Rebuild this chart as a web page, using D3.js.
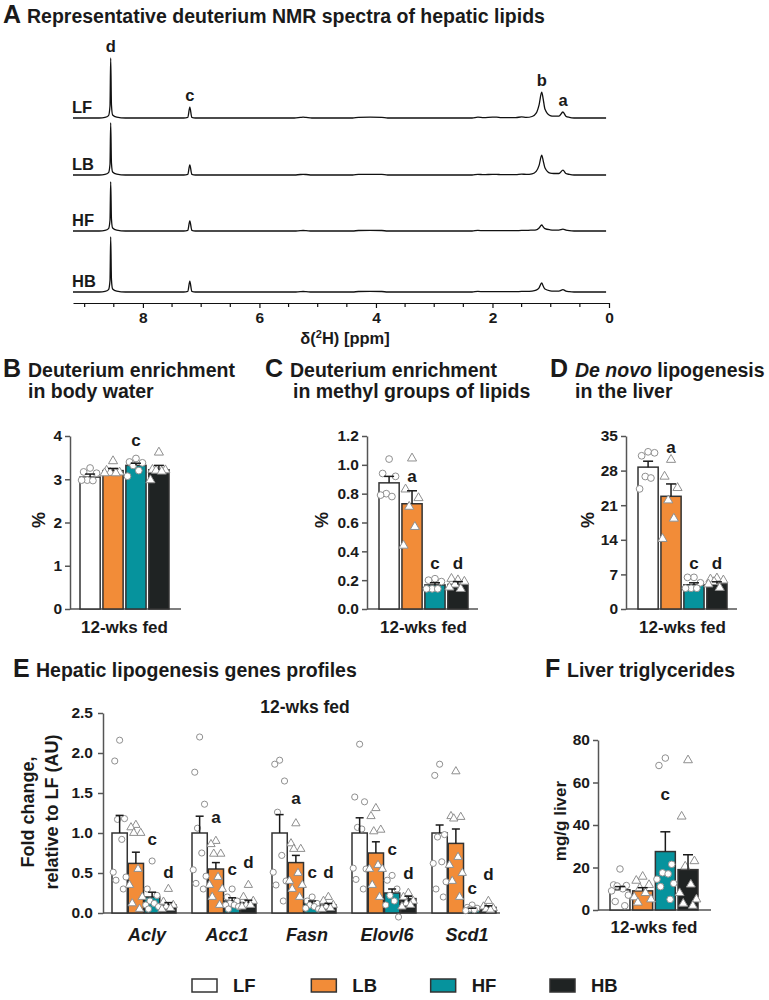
<!DOCTYPE html>
<html>
<head>
<meta charset="utf-8">
<script src="https://cdn.jsdelivr.net/npm/d3@7"></script>
<style>
  body { margin: 0; background: #fff; }
  svg text { font-family: "Liberation Sans", Arial, sans-serif; font-weight: bold; fill: #1a1a1a; }
</style>
</head>
<body>
<svg id="fig" width="769" height="1000"></svg>
<script>
// diet groups
const groups = ["LF", "LB", "HF", "HB"];
const groupColors = ["#ffffff", "#f28c38", "#06939d", "#1f2323"];
const groupShapes = ["circle", "triangle", "circle", "triangle"];

// A: NMR spectra (chemical shift grid and intensity per group, LF d-peak = 100)
const ppm = [9.2, 8.75, 8.65, 8.59, 8.565, 8.553, 8.54, 8.52, 8.45, 8.3,
  7.3, 7.23, 7.195, 7.16, 7.1, 5.4, 5.3, 5.25, 5.2, 5.1,
  4.4, 4.3, 4.1, 3.9, 3.8, 2.35, 2.25, 2.15, 2.0, 1.93, 1.85,
  1.6, 1.5, 1.42, 1.32, 1.25, 1.2, 1.155, 1.13, 1.1, 1.01, 0.95, 0.86, 0.79, 0.74, 0.68, 0.6, 0.05];
const specLF = [0, 0, 1, 4, 20, 100, 22, 5, 1.5, 0, 0, 1, 18, 1, 0, 0, 1, 1.5, 1, 0,
  0, 1.2, 1.5, 1.2, 0, 0, 1.5, 0.5, 1.5, 1.5, 0.5,
  0.5, 2, 1, 2.5, 8, 22, 43, 32, 15, 4, 3, 3, 10, 3, 1, 0, 0];
const specLB = [0, 0, 1, 4, 18, 87, 20, 5, 1.5, 0, 0, 1, 17, 1, 0, 0, 0.8, 1, 0.8, 0,
  0, 1, 1.2, 1, 0, 0, 1.2, 0.5, 1.2, 1.2, 0.5,
  0.5, 1.5, 1, 2, 6, 16, 33, 24, 12, 3, 2.5, 2.5, 8, 2.5, 1, 0, 0];
const specHF = [0, 0, 1, 4, 18, 82, 20, 5, 1.5, 0, 0, 1, 17, 1, 0, 0, 0.6, 0.8, 0.6, 0,
  0, 0.8, 1, 0.8, 0, 0, 1, 0.5, 0.5, 0.5, 0.5,
  0.5, 1, 1, 1.5, 2, 5, 10, 7, 4, 2, 1.5, 1.5, 3, 1.5, 0.5, 0, 0];
const specHB = [0, 0, 1, 4, 19, 92, 21, 5, 1.5, 0, 0, 1, 18, 1, 0, 0, 0.6, 0.8, 0.6, 0,
  0, 0.8, 1, 0.8, 0, 0, 1, 0.5, 0.5, 0.5, 0.5,
  0.5, 1, 1, 1.5, 3, 7, 15, 10, 5, 2, 1.5, 1.5, 4, 1.5, 0.5, 0, 0];
const spectra = [specLF, specLB, specHF, specHB];
const peakNames = ["d", "c", "b", "a"];
const peakPpm = [8.553, 7.195, 1.155, 0.79];
const ppmTicks = [8, 6, 4, 2, 0];
const ppmMinor = [9, 8.5, 7.5, 7, 6.5, 5.5, 5, 4.5, 3.5, 3, 2.5, 1.5, 1, 0.5];

// B: body water enrichment (%)
const bMean = [3.05, 3.2, 3.32, 3.22];
const bErr = [0.07, 0.05, 0.05, 0.1];
const bPts = [[3.26, 3.17, 3.14, 2.98, 2.97, 2.98], [3.42, 3.2, 3.16, 3.15, 3.14, 3.14],
  [3.48, 3.4, 3.38, 3.32, 3.2, 3.07], [3.62, 3.22, 3.21, 3.2, 3.18, 2.98]];
const bLetters = ["", "", "c", ""];
const bLetterY = [0, 0, 3.76, 0];
const bTicks = [0, 1, 2, 3, 4];

// C: methyl groups enrichment (%)
const cMean = [0.875, 0.73, 0.167, 0.17];
const cErr = [0.045, 0.09, 0.015, 0.02];
const cPts = [[1.04, 0.94, 0.92, 0.8, 0.78, 0.79], [1.045, 0.83, 0.77, 0.71, 0.57, 0.44],
  [0.21, 0.2, 0.19, 0.14, 0.14, 0.14], [0.2, 0.21, 0.19, 0.17, 0.14, 0.15]];
const cLetters = ["", "a", "c", "d"];
const cLetterY = [0, 0.88, 0.28, 0.28];
const cTicks = [0, 0.2, 0.4, 0.6, 0.8, 1.0, 1.2];

// D: de novo lipogenesis (%)
const dMean = [28.7, 22.8, 4.9, 5.1];
const dErr = [1.2, 2.5, 0.4, 0.4];
const dPts = [[31.8, 31, 31.6, 26.8, 26.5, 24.3], [30.2, 26.8, 24.5, 22, 18.3, 14.2],
  [6.4, 6.4, 5.3, 4.2, 4.2, 4.2], [6.2, 6, 5.8, 5.5, 4.3, 5]];
const dLetters = ["", "a", "c", "d"];
const dLetterY = [0, 31.6, 8.1, 8.1];
const dTicks = [0, 7, 14, 21, 28, 35];

// E: lipogenesis genes, fold change
const genes = ["Acly", "Acc1", "Fasn", "Elovl6", "Scd1"];
const eMean = [[1.0, 0.62, 0.2, 0.1], [1.0, 0.55, 0.15, 0.13], [1.0, 0.63, 0.12, 0.1],
  [1.0, 0.75, 0.25, 0.18], [1.0, 0.87, 0.05, 0.07]];
const eErr = [[0.22, 0.14, 0.06, 0.03], [0.21, 0.08, 0.04, 0.03], [0.23, 0.09, 0.03, 0.02],
  [0.19, 0.14, 0.05, 0.03], [0.1, 0.18, 0.01, 0.02]];
const ePts = [
  [[2.16, 1.9, 1.18, 1.17, 0.92, 0.51, 0.45, 0.41, 0.3], [1.1, 1.07, 1.0, 1.0, 0.55, 0.35, 0.2, 0.12, 0.05],
   [0.65, 0.3, 0.22, 0.15, 0.12, 0.1, 0.08, 0.05], [0.3, 0.14, 0.1, 0.08, 0.06, 0.05]],
  [[2.2, 1.76, 1.36, 1.06, 0.75, 0.54, 0.46, 0.37, 0.3], [0.9, 0.86, 0.74, 0.74, 0.45, 0.35, 0.3, 0.2, 0.1],
   [0.3, 0.2, 0.15, 0.12, 0.1, 0.1, 0.08, 0.05], [0.35, 0.2, 0.15, 0.1, 0.1, 0.08]],
  [[1.91, 1.86, 1.65, 1.26, 0.72, 0.51, 0.4, 0.35, 0.15], [1.12, 0.87, 0.8, 0.8, 0.5, 0.4, 0.35, 0.3, 0.2],
   [0.2, 0.15, 0.12, 0.1, 0.08, 0.06, 0.05], [0.2, 0.15, 0.1, 0.08, 0.06, 0.05]],
  [[2.11, 1.45, 1.39, 1.07, 1.05, 0.56, 0.55, 0.42, 0.3], [1.31, 1.21, 1.04, 1.02, 0.6, 0.55, 0.55, 0.35, 0.2],
   [0.47, 0.41, 0.3, 0.22, 0.15, 0.1, -0.05], [0.25, 0.2, 0.15, 0.12, 0.1, 0.08]],
  [[1.86, 1.72, 0.98, 0.95, 0.64, 0.62, 0.39, 0.3, 0.2], [1.77, 1.21, 1.2, 1.18, 0.7, 0.6, 0.5, 0.4, 0.2],
   [0.1, 0.07, 0.06, 0.05, 0.04, 0.03], [0.15, 0.08, 0.06, 0.05, 0.04]]
];
const eLetters = [["", "", "c", "d"], ["", "a", "c", "d"], ["", "a", "c", "d"], ["", "", "c", "d"], ["", "", "c", "d"]];
const eLetterY = [[0, 0, 0.85, 0.44], [0, 1.12, 0.47, 0.56], [0, 1.36, 0.44, 0.44], [0, 0, 0.72, 0.42], [0, 0, 0.24, 0.41]];
const eTicks = [0, 0.5, 1.0, 1.5, 2.0, 2.5];

// F: liver triglycerides (mg/g liver)
const fMean = [9.5, 9, 27.5, 19];
const fErr = [1.5, 1.5, 9.3, 7];
const fPts = [[19.3, 11.8, 11.5, 11.3, 10, 9, 7, 4, 2], [15.7, 13.8, 11.8, 10.3, 8, 6, 5, 3.5],
  [71.5, 68, 21.5, 17.5, 17, 14.5, 12.5, 11, 5], [70.5, 44, 23, 20.5, 12, 8, 5, 3, 2]];
const fLetters = ["", "", "c", ""];
const fLetterY = [0, 0, 51.8, 0];
const fTicks = [0, 20, 40, 60, 80];

const svg = d3.select("#fig");
const symbols = { circle: d3.symbolCircle, triangle: d3.symbolTriangle };
const jit = [0, -0.32, 0.32, -0.14, 0.14, -0.42, 0.42, -0.24, 0.24, 0.05];

function text(g, x, y, s, size, anchor, italic) {
  return g.append("text").attr("x", x).attr("y", y).attr("font-size", size)
    .attr("text-anchor", anchor || "start").attr("font-style", italic ? "italic" : null).text(s);
}

function styleAxis(ax, size) {
  ax.attr("font-size", null).attr("font-family", null);
  ax.selectAll("path, line").attr("stroke", "#555").attr("stroke-width", 1.5);
  ax.selectAll("text").attr("font-size", size || 15.5).attr("fill", "#1a1a1a");
}

function yAxis(x, y, ticks, fmt, pad) {
  const ax = svg.append("g").attr("transform", `translate(${x},0)`)
    .call(d3.axisLeft(y).tickValues(ticks).tickFormat(fmt).tickSize(5).tickSizeOuter(0).tickPadding(pad || 3));
  styleAxis(ax);
}

function baseLine(x0, x1, y0) {
  svg.append("line").attr("x1", x0).attr("x2", x1).attr("y1", y0).attr("y2", y0)
    .attr("stroke", "#555").attr("stroke-width", 1.5);
}

// one set of four bars with dots, upper error bars and letters
function drawBars(xb, y, mean, err, pts, letters, letterY, capW, symSize) {
  const bw = xb.bandwidth();
  const g = svg.append("g");
  g.selectAll("rect").data(mean).join("rect")
    .attr("x", (d, i) => xb(groups[i])).attr("width", bw)
    .attr("y", d => y(d)).attr("height", d => y(0) - y(d))
    .attr("fill", (d, i) => groupColors[i]).attr("stroke", "#333").attr("stroke-width", 1.5);
  pts.forEach((vals, i) => {
    const cx = xb(groups[i]) + bw / 2;
    g.selectAll(null).data(vals).join("path")
      .attr("d", d3.symbol().type(symbols[groupShapes[i]]).size(symSize))
      .attr("transform", (d, k) => `translate(${cx + jit[k % jit.length] * bw},${y(d)})`)
      .attr("fill", "#fff").attr("stroke", "#8f8f8f").attr("stroke-width", 1);
  });
  mean.forEach((m, i) => {
    const cx = xb(groups[i]) + bw / 2;
    const top = y(m + err[i]);
    g.append("line").attr("x1", cx).attr("x2", cx).attr("y1", y(m)).attr("y2", top)
      .attr("stroke", "#1a1a1a").attr("stroke-width", 1.5);
    g.append("line").attr("x1", cx - capW / 2).attr("x2", cx + capW / 2).attr("y1", top).attr("y2", top)
      .attr("stroke", "#1a1a1a").attr("stroke-width", 1.5);
    if (letters[i]) text(g, cx, y(letterY[i]), letters[i], 17, "middle");
  });
}

function panelTitle(x, y, letter, lines, dx) {
  const g = svg.append("g");
  text(g, x, y, letter, 25);
  lines.forEach((l, i) => {
    const t = g.append("text").attr("x", x + dx + (l.indent || 0)).attr("y", y + i * 21).attr("font-size", 19.5);
    l.parts.forEach(p => t.append("tspan").attr("font-style", p.it ? "italic" : null).text(p.s));
  });
}

// ---------- A ----------
panelTitle(3, 23, "A", [{ parts: [{ s: "Representative deuterium NMR spectra of hepatic lipids" }] }], 24);
const xs = d3.scaleLinear().domain([9.2, 0]).range([73, 609]);
const hs = d3.scaleLinear().domain([0, 100]).range([0, 60]);
const baselines = [118, 175, 231, 292];
spectra.forEach((sp, i) => {
  const pts = ppm.map((p, k) => [p, sp[k]]);
  svg.append("path").datum(pts)
    .attr("d", d3.line().x(d => xs(d[0])).y(d => baselines[i] - hs(d[1])).curve(d3.curveMonotoneX))
    .attr("fill", "none").attr("stroke", "#111").attr("stroke-width", 1.3);
  text(svg, 72, baselines[i] - 5, groups[i], 16.5);
});
peakNames.forEach((n, k) => {
  const idx = ppm.indexOf(peakPpm[k]);
  text(svg, xs(peakPpm[k]), baselines[0] - hs(specLF[idx]) - 6, n, 16.5, "middle");
});
const axA = svg.append("g").attr("transform", "translate(0,303)")
  .call(d3.axisBottom(xs).tickValues(ppmTicks).tickFormat(d3.format("d")).tickSize(5).tickSizeOuter(0).tickPadding(4));
styleAxis(axA);
axA.selectAll("path, line").attr("stroke", "#111").attr("stroke-width", 1.2);
svg.append("g").selectAll("line").data(ppmMinor).join("line")
  .attr("x1", d => xs(d)).attr("x2", d => xs(d)).attr("y1", 303).attr("y2", 307)
  .attr("stroke", "#111").attr("stroke-width", 1.2);
const axLab = svg.append("text").attr("x", 345).attr("y", 344).attr("font-size", 16.5).attr("text-anchor", "middle");
axLab.append("tspan").text("δ(");
axLab.append("tspan").attr("font-size", 11).attr("dy", -6).text("2");
axLab.append("tspan").attr("dy", 6).text("H) [ppm]");

// ---------- B, C, D ----------
const smallPanels = [
  { axisX: 70, x0: 80, letter: "B", tx: 3, title: [{ parts: [{ s: "Deuterium enrichment" }] }, { parts: [{ s: "in body water" }] }],
    dom: [0, 4], ticks: bTicks, fmt: d3.format("d"), mean: bMean, err: bErr, pts: bPts, lt: bLetters, ly: bLetterY, ylx: 39 },
  { axisX: 367, x0: 379, letter: "C", tx: 265, title: [{ parts: [{ s: "Deuterium enrichment" }] }, { indent: 3, parts: [{ s: "in methyl groups of lipids" }] }],
    dom: [0, 1.2], ticks: cTicks, fmt: d3.format(".1f"), mean: cMean, err: cErr, pts: cPts, lt: cLetters, ly: cLetterY, ylx: 322 },
  { axisX: 626, x0: 638, letter: "D", tx: 550, title: [{ parts: [{ s: "De novo", it: true }, { s: " lipogenesis" }] }, { parts: [{ s: "in the liver" }] }],
    dom: [0, 35], ticks: dTicks, fmt: d3.format("d"), mean: dMean, err: dErr, pts: dPts, lt: dLetters, ly: dLetterY, ylx: 588 }
];
smallPanels.forEach(p => {
  panelTitle(p.tx, 377, p.letter, p.title, 25);
  const y = d3.scaleLinear().domain(p.dom).range([609, 436]);
  const xb = d3.scaleBand().domain(groups).range([p.x0, p.x0 + 89]).paddingInner(0.12);
  baseLine(p.axisX, p.axisX + 111, 609);
  yAxis(p.axisX, y, p.ticks, p.fmt);
  drawBars(xb, y, p.mean, p.err, p.pts, p.lt, p.ly, 10, 36);
  text(svg, p.x0 + 44.5, 633, "12-wks fed", 17, "middle");
  text(svg, 0, 0, "%", 18, "middle").attr("dy", "0.35em")
    .attr("transform", `translate(${p.ylx},520) rotate(-90)`);
});

// ---------- E ----------
panelTitle(13, 677, "E", [{ parts: [{ s: "Hepatic lipogenesis genes profiles" }] }], 23);
const yE = d3.scaleLinear().domain([0, 2.5]).range([913, 713]);
const xGene = d3.scaleBand().domain(genes).range([112, 496]).paddingInner(0.2);
const xIn = d3.scaleBand().domain(groups).range([0, xGene.bandwidth()]).paddingInner(0.06);
baseLine(103, 500, 913);
yAxis(103, yE, eTicks, d3.format(".1f"), 5);
genes.forEach((gname, gi) => {
  const xb = xIn.copy().range([xGene(gname), xGene(gname) + xGene.bandwidth()]);
  drawBars(xb, yE, eMean[gi], eErr[gi], ePts[gi], eLetters[gi], eLetterY[gi], 8, 30);
  text(svg, xGene(gname) + xGene.bandwidth() / 2 + 3, 941, gname, 18, "middle", true);
});
text(svg, 305, 713, "12-wks fed", 17.5, "middle");
text(svg, 0, 0, "Fold change,", 18, "middle").attr("dy", "0.35em").attr("transform", "translate(28,812) rotate(-90)");
text(svg, 0, 0, "relative to LF (AU)", 18, "middle").attr("dy", "0.35em").attr("transform", "translate(52,812) rotate(-90)");

// ---------- F ----------
panelTitle(545, 677, "F", [{ parts: [{ s: "Liver triglycerides" }] }], 22);
const yF = d3.scaleLinear().domain([0, 80]).range([910, 740]);
const xF = d3.scaleBand().domain(groups).range([610, 698]).paddingInner(0.12);
baseLine(598, 711, 910);
yAxis(598, yF, fTicks, d3.format("d"));
drawBars(xF, yF, fMean, fErr, fPts, fLetters, fLetterY, 10, 34);
text(svg, 654, 933, "12-wks fed", 17, "middle");
text(svg, 0, 0, "mg/g liver", 17, "middle").attr("dy", "0.35em").attr("transform", "translate(560,821) rotate(-90)");

// ---------- legend ----------
const xLeg = d3.scalePoint().domain(groups).range([192, 550]);
groups.forEach((gname, i) => {
  svg.append("rect").attr("x", xLeg(gname)).attr("y", 979).attr("width", 25).attr("height", 13)
    .attr("fill", groupColors[i]).attr("stroke", "#333").attr("stroke-width", 1.5);
  text(svg, xLeg(gname) + 41, 992, gname, 18.5);
});
</script>
</body>
</html>
